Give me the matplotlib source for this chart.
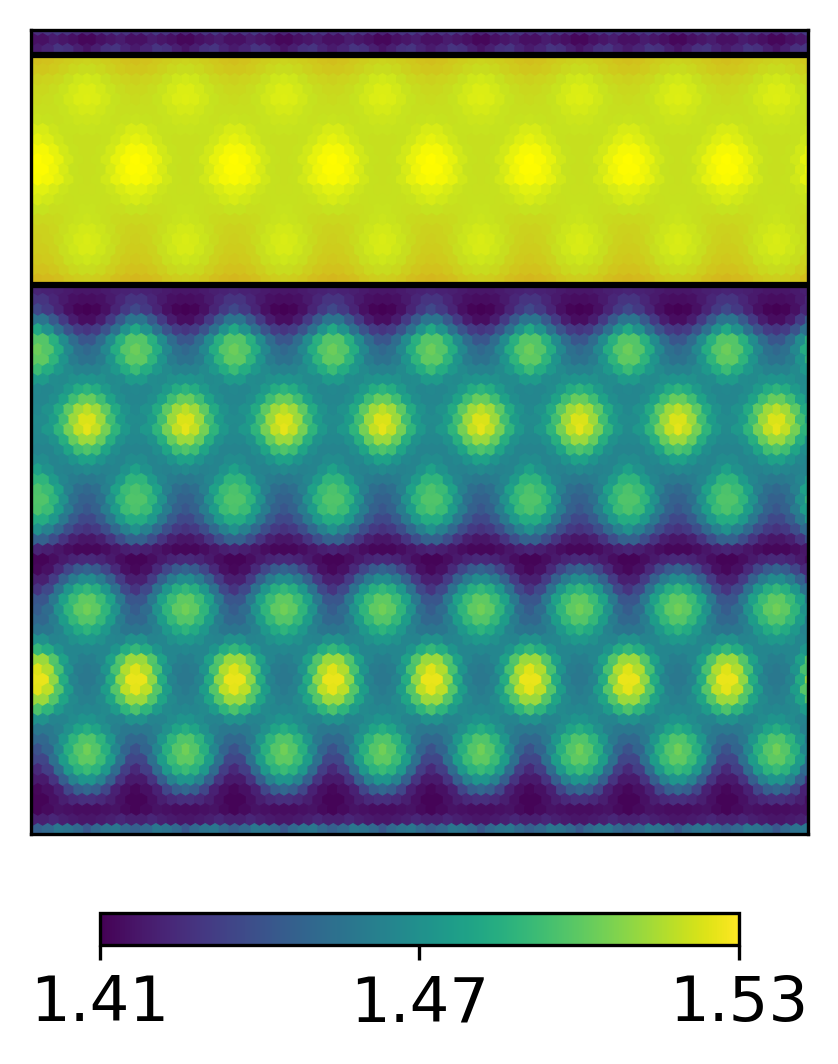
import numpy as np
import matplotlib
matplotlib.use("Agg")
import matplotlib.pyplot as plt
from matplotlib.colors import LinearSegmentedColormap
from matplotlib.patches import Rectangle

# values, half a repeat per row, thousandths above 1.4
top_rows = [
    [22,25,28,30,28,25],
    [12,15,17,19,15],
    [16,20,26,28,22,18],
]
# core band, relative scale: 0 orange, 50 lime, 100 yellow
core_rows = [
    [36,34,30,25,20,18],[44,40,34,28,24],[62,58,48,40,36,34],[70,62,52,44,40],
    [72,69,60,50,45,43],[64,58,51,47,47],[56,55,51,48,50,52],[51,50,50,56,66],
    [47,47,49,58,72,80],[47,50,62,80,92],[47,49,60,80,94,100],[47,50,66,86,98],
    [47,49,60,78,90,95],[48,49,55,66,76],[49,49,48,52,60,66],[51,48,46,46,50],
    [55,52,47,42,41,40],[62,56,46,38,35],[68,64,54,42,35,32],[66,58,46,35,30],
    [58,54,46,35,28,25],[44,40,32,24,20],[32,30,25,18,14,12],
]
bottom_rows = [
    [17,17,18,20,21,22],[14,15,18,23,28],[10,11,15,22,30,36],[14,19,30,43,56],
    [28,31,40,54,70,82],[42,52,68,86,98],[50,54,66,84,98,103],[55,60,72,88,100],
    [63,63,67,74,84,92],[72,70,67,68,75],[88,84,75,68,65,66],[102,93,79,69,65],
    [118,113,100,83,71,66],[123,112,93,76,68],[125,119,105,88,74,67],[112,102,85,71,66],
    [97,93,80,69,64,64],[78,72,66,64,68],[67,65,63,64,71,78],[58,60,65,75,88],
    [50,53,62,78,92,96],[47,54,70,88,97],[42,47,60,76,92,96],[36,44,58,74,84],
    [27,30,38,50,62,70],[17,20,28,38,47],[12,12,14,17,20,22],[24,22,18,14,11],
    [48,44,35,24,15,12],[68,60,47,31,20],[90,85,73,55,36,28],[100,92,78,58,42],
    [104,100,88,70,52,45],[98,90,76,60,50],[88,83,74,63,57,56],[74,70,65,64,70],
    [66,65,65,72,84,90],[61,65,78,98,112],[58,60,72,95,116,124],[58,64,84,110,126],
    [59,62,76,98,118,125],[62,67,80,98,112],[66,65,67,75,88,96],[72,68,64,64,70],
    [85,80,70,62,58,58],[97,88,73,58,50],[104,98,85,65,48,40],[100,92,76,54,35],
    [92,87,74,52,32,24],[72,63,46,28,18],[50,46,35,21,15,12],[26,24,20,15,11],
    [14,14,15,16,13,11],[17,18,20,23,20],[42,50,55,57,50,46],
]
tick_values = [1.41, 1.47, 1.53]

core_cmap = LinearSegmentedColormap.from_list(
    "core", [(0.0, "#d8a81c"), (0.25, "#d0c81c"), (0.5, "#c6e21e"),
             (0.75, "#e0f012"), (1.0, "#fffc00")])

W, H, DPI = 838, 1064, 300
fig = plt.figure(figsize=(W / DPI, H / DPI), dpi=DPI)
ax = fig.add_axes([31 / W, 1 - 834 / H, 777 / W, 804 / H])
ax.set_xlim(31, 808)
ax.set_ylim(834, 30)
ax.set_xticks([])
ax.set_yticks([])

PERIOD, ORIGIN, STEP = 98.5, 87.0, 10.0


def draw(rows, y0, clip, **kw):
    xs, ys, cs = [], [], []
    for i, row in enumerate(rows):
        row = np.asarray(row, dtype=float)
        if len(row) == 6:
            phase = np.arange(6) * PERIOD / 10
            p = np.r_[phase, -phase[1:5]]
            v = np.r_[row, row[1:5]]
        else:
            phase = (np.arange(5) + 0.5) * PERIOD / 10
            p = np.r_[phase, -phase]
            v = np.r_[row, row]
        for k in range(-1, 9):
            xs.append(ORIGIN + k * PERIOD + p)
            ys.append(np.full(p.shape, y0 + i * STEP))
            cs.append(v)
    xs, ys, cs = map(np.concatenate, (xs, ys, cs))
    # rows are painted top to bottom, each one overlapping the last
    sc = ax.scatter(xs, ys, c=cs, marker="h", s=11.5, linewidths=0, **kw)
    sc.set_clip_path(Rectangle((31, clip[0]), 777, clip[1] - clip[0],
                               transform=ax.transData))
    return sc


draw(top_rows, 30, (30, 54), cmap="viridis", vmin=10, vmax=130)
draw(core_rows, 60, (54, 285), cmap=core_cmap, vmin=0, vmax=100)
draw(bottom_rows, 290, (285, 834), cmap="viridis", vmin=10, vmax=130)

ax.axhline(54.5, color="black", lw=1.5, zorder=5)
ax.axhline(284.5, color="black", lw=1.5, zorder=5)

cax = fig.add_axes([100 / W, 1 - 945 / H, 639 / W, 32 / H])
sm = plt.cm.ScalarMappable(norm=plt.Normalize(1.41, 1.53), cmap="viridis")
cb = fig.colorbar(sm, cax=cax, orientation="horizontal")
cb.set_ticks(tick_values)
cb.set_ticklabels([f"{t:.2f}" for t in tick_values])
cb.ax.tick_params(labelsize=15)

fig.savefig("out.png", dpi=DPI)
